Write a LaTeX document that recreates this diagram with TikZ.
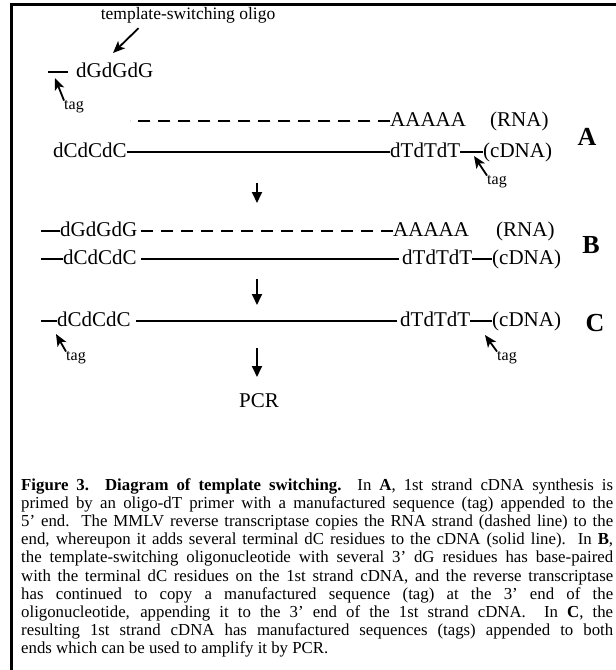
\documentclass[tikz,border=0pt]{standalone}
\usepackage{fontspec}
\setmainfont{Liberation Serif}
\usetikzlibrary{arrows.meta}
\tikzstyle{seq}=[inner sep=0pt, anchor=west, font=\fontsize{21}{21}\selectfont, text height=10pt, text depth=0pt]
\tikzstyle{tagtext}=[inner sep=0pt, font=\fontsize{16}{16}\selectfont]
\tikzstyle{panel}=[inner sep=0pt, font=\fontsize{26}{26}\selectfont\bfseries]
\tikzstyle{strand}=[line width=1.8pt]
\tikzstyle{rna}=[line width=1.8pt, dash pattern=on 12pt off 8pt]
\tikzstyle{down}=[line width=1.8pt, -{Triangle[length=11pt,width=10pt]}]
\tikzstyle{point}=[line width=1.8pt, -{Stealth[length=12pt,width=10pt,inset=3pt]}]

\begin{document}
\begin{tikzpicture}[x=1pt,y=-1pt]
  \useasboundingbox (0,0) rectangle (616,670);
  \draw [line width=3pt] (616,4) -- (11.5,4) -- (11.5,670);

  \node [inner sep=0pt, font=\fontsize{17.5}{17.5}\selectfont] at (188,15) (ts) {template-switching oligo};
  \coordinate (q0) at (113,53);
  \draw [point] (ts.south west) ++(38,5) coordinate (q0s) -- (q0);

  \coordinate (b0) at (48,72);
  \node [seq] at (76,72) (g0) {dGdGdG};
  \draw [strand, shorten >=8pt] (b0) -- (g0.west);
  \coordinate (p0) at (55,78);
  \node [tagtext] at (74,107) (tg0) {tag};
  \draw [point] (tg0.north west) -- (p0);

  \node [seq] at (390,121) (a1) {AAAAA};
  \coordinate (r1) at (130,121);
  \draw [rna] (a1) -- (r1);
  \node [seq] at (490,121) (rna1) {(RNA)};
  \node [panel] at (587,137) (la) {A};
  \node [seq] at (53,152) (c1) {dCdCdC};
  \node [seq] at (390,152) (t1) {dTdTdT};
  \draw [strand] (c1) -- (t1);
  \node [seq] at (483,152) (d1) {(cDNA)};
  \draw [strand] (t1) -- (d1);
  \coordinate (p1) at (474,156);
  \node [tagtext] at (497,182) (tg1) {tag};
  \draw [point] (tg1.north west) -- (p1);

  \coordinate (s1) at (257,183);
  \coordinate (s1e) at (257,203);
  \draw [down] (s1) -- (s1e);

  \coordinate (b2) at (41,231);
  \node [seq] at (60,231) (g2) {dGdGdG};
  \draw [strand] (b2) -- (g2);
  \node [seq] at (393,231) (a2) {AAAAA};
  \draw [rna] (a2) -- (g2);
  \node [seq] at (496,231) (rna2) {(RNA)};
  \node [panel] at (591,245) (lb) {B};
  \coordinate (b3) at (41,259);
  \node [seq] at (63,259) (c2) {dCdCdC};
  \draw [strand] (b3) -- (c2);
  \node [seq] at (402,259) (t2) {dTdTdT};
  \draw [strand, shorten <=4pt, shorten >=3pt] (c2) -- (t2);
  \node [seq] at (492,259) (d2) {(cDNA)};
  \draw [strand] (t2) -- (d2);

  \coordinate (s2) at (257,279);
  \coordinate (s2e) at (257,305);
  \draw [down] (s2) -- (s2e);

  \coordinate (b4) at (41,321);
  \node [seq] at (57,321) (c3) {dCdCdC};
  \draw [strand] (b4) -- (c3);
  \node [seq] at (400,321) (t3) {dTdTdT};
  \draw [strand, shorten <=5pt, shorten >=3pt] (c3) -- (t3);
  \node [seq] at (492,321) (d3) {(cDNA)};
  \draw [strand] (t3) -- (d3);
  \node [panel] at (595,323) (lc) {C};
  \coordinate (p3) at (56,334);
  \node [tagtext] at (76,358) (tg3) {tag};
  \draw [point] (tg3.north west) -- (p3);
  \coordinate (p4) at (485,335);
  \node [tagtext] at (507,358) (tg4) {tag};
  \draw [point] (tg4.north west) -- (p4);

  \coordinate (s3) at (257,348);
  \coordinate (s3e) at (257,377);
  \draw [down] (s3) -- (s3e);
  \node [inner sep=0pt, font=\fontsize{21}{21}\selectfont] at (259,401) (pcr) {PCR};

  \node [inner sep=0pt, anchor=north west, text width=592pt, align=justify, font=\fontsize{16.8}{18.2}\selectfont] at (21,478) (cap) {\textbf{Figure 3.\ \ Diagram of template switching.}\ \ In \textbf{A}, 1st strand cDNA synthesis is\linebreak
primed by an oligo-dT primer with a manufactured sequence (tag) appended to the\linebreak
5' end.\ \ The MMLV reverse transcriptase copies the RNA strand (dashed line) to the\linebreak
end, whereupon it adds several terminal dC residues to the cDNA (solid line).\ \ In \textbf{B},\linebreak
the template-switching oligonucleotide with several 3' dG residues has base-paired\linebreak
with the terminal dC residues on the 1st strand cDNA, and the reverse transcriptase\linebreak
has continued to copy a manufactured sequence (tag) at the 3' end of the\linebreak
oligonucleotide, appending it to the 3' end of the 1st strand cDNA.\ \ In \textbf{C}, the\linebreak
resulting 1st strand cDNA has manufactured sequences (tags) appended to both\linebreak
ends which can be used to amplify it by PCR.};
\end{tikzpicture}
\end{document}
